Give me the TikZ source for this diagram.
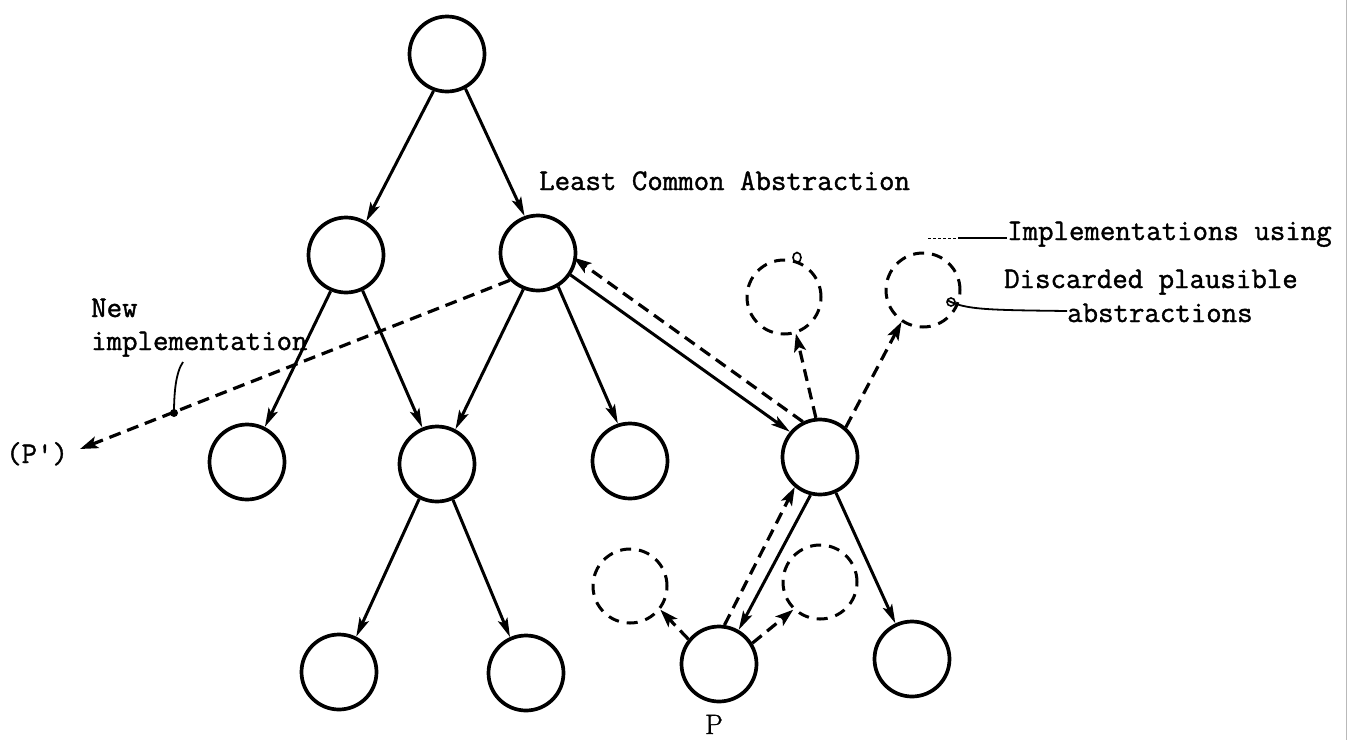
\documentclass[tikz,border=0pt]{standalone}
\usepackage{fontspec}
\newfontfamily\typewriter[FakeBold=1.3]{Latin Modern Mono}
\newfontfamily\romanbold[FakeBold=1.2]{Latin Modern Roman}
\usetikzlibrary{arrows.meta}
\begin{document}
\begin{tikzpicture}[x=1pt,y=-1pt,
  nd/.style={circle,draw,line width=3.7pt,minimum size=75pt,inner sep=0pt},
  ghost/.style={circle,draw,line width=3pt,dash pattern=on 11pt off 8pt,minimum size=74pt,inner sep=0pt},
  link/.style={line width=3pt,-{Stealth[length=19pt,width=10pt,inset=4pt]}},
  dlink/.style={line width=3.2pt,dash pattern=on 12pt off 7pt,-{Stealth[length=18pt,width=12pt,inset=4pt]}},
  lbl/.style={font=\fontsize{30}{36}\selectfont\typewriter,inner sep=0pt,anchor=base west},
  lead/.style={line width=1.8pt}]
\useasboundingbox (0,0) rectangle (1350,740);

% page edge
\draw[gray!55,line width=1pt] (1346,0) -- (1346,740);

% abstraction tree
\node[nd] (root) at (447,54) {};
\node[nd] (A)    at (346,255) {};
\node[nd] (LCA)  at (538,253) {};
\node[nd] (L2a)  at (247,462) {};
\node[nd] (L2b)  at (437,464) {};
\node[nd] (L2c)  at (630,461) {};
\node[nd] (R)    at (820,457) {};
\node[nd] (L3a)  at (339,672) {};
\node[nd] (L3b)  at (526,673) {};
\node[nd] (P)    at (719,664) {};
\node[nd] (Rb)   at (912,659) {};

% discarded plausible abstractions
\node[ghost] (D1) at (784,297) {};
\node[ghost] (D2) at (923,290) {};
\node[ghost] (Dl) at (630,586) {};
\node[ghost] (Dr) at (820,582) {};

% labels
\node[lbl] (lca)  at (539,190) {Least Common Abstraction};
\node[lbl] (impl) at (1007,240) {Implementations using};
\node[lbl] (disc) at (1004,288) {Discarded plausible};
\node[lbl] (abst) at (1067,322) {abstractions};
\node[lbl] (new)  at (91,317) {New};
\node[lbl] (newi) at (91,350) {implementation};
\node[lbl] (pp) at (6,463) {(P')};
\node[font=\fontsize{28}{32}\selectfont\romanbold,inner sep=0pt,anchor=base] (plab) at (714,734) {P};

% tree edges
\draw[link] (root.-110) -- (A.59);
\draw[link] (root.-62)  -- (LCA.110);
\draw[link] (A.-113)    -- (L2a.63);
\draw[link] (A.-65)     -- (L2b.112);
\draw[link] (LCA.-112)  -- (L2b.62);
\draw[link] (LCA.-59)   -- (L2c.108);
\draw[link] (LCA.-34)   -- (R.140);
\draw[link] (L2b.-117)  -- (L3a.64);
\draw[link] (L2b.-66)   -- (L3b.114);
\draw[link] (R.-104)    -- (P.60);
\draw[link] (R.-66)     -- (Rb.115);

% implementation paths
\draw[dlink,shorten >=-4pt] (R.116) -- (LCA.-10);
\draw[dlink] (P.82)   -- (R.-130);
\draw[dlink] (R.96)   -- (D1.-72);
\draw[dlink] (R.49)   -- (D2.-124);
\draw[dlink] (P.141)  -- (Dl.-38);
\draw[dlink] (P.32)   -- (Dr.-134);

% new implementation
\coordinate (ptip) at (80,449);
\draw[dlink] (LCA.-136) -- (ptip);

% leaders
\coordinate (newdot) at (174,413);
\draw[lead] (183,362) .. controls (176,372) and (174,392) .. (newdot);
\fill (newdot) circle (4pt);
\draw[densely dashed,line width=0.9pt] (928,238) -- (958,238);
\draw[lead] (958,238) -- (impl.base west |- 0,238);
\draw[line width=1.6pt] (D1.north) ++(13,-1) ellipse (4pt and 5pt);
\draw[line width=1.6pt] (951,302) circle (4pt);
\draw[lead] (947,300) .. controls (965,310) and (990,310) .. (abst.base west |- 0,311);
\end{tikzpicture}
\end{document}
